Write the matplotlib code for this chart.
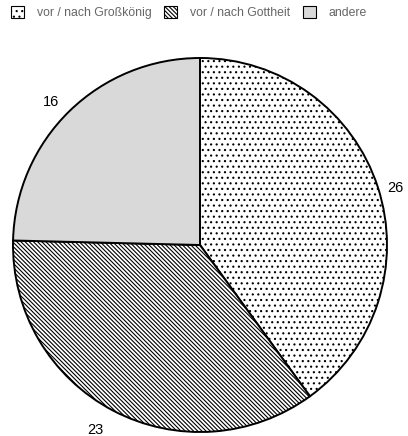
import numpy as np
import matplotlib.pyplot as plt

plt.rcParams['font.family'] = ['Liberation Sans', 'DejaVu Sans']
plt.rcParams['hatch.linewidth'] = 0.8

labels = ['vor / nach Großkönig', 'vor / nach Gottheit', 'andere']
values = [26, 23, 16]
fills = ['white', 'white', '#d9d9d9']
hatches = ['...', '\\' * 8, '']
# where each number sits: (radius, angle in degrees)
label_pos = [(1.09, 16.2), (1.135, -119.4), (1.105, 136.2)]

fig = plt.figure(figsize=(4.08, 4.36), dpi=100)
ax = fig.add_axes([13 / 408, 4 / 436, 374 / 408, 374 / 436])

wedges, texts = ax.pie(values, labels=[str(v) for v in values], startangle=90,
                       counterclock=False, colors=fills,
                       wedgeprops=dict(edgecolor='black', linewidth=1.4),
                       textprops=dict(fontsize=10.5))
for w, h in zip(wedges, hatches):
    w.set_hatch(h)
for t, (r, a) in zip(texts, label_pos):
    t.set_position((r * np.cos(np.radians(a)), r * np.sin(np.radians(a))))
    t.set_ha('center')
    t.set_va('center')
    t.set_clip_on(False)

ax.set_xlim(-1, 1)
ax.set_ylim(-1, 1)
ax.set_aspect('equal')

leg = fig.legend(wedges, labels, loc='upper left',
                 bbox_to_anchor=(5 / 408, 1.0),
                 ncol=3, frameon=False, fontsize=8.8, borderpad=0,
                 handlelength=1.07, handleheight=1.07, handletextpad=1.07,
                 columnspacing=1.0)
for t in leg.get_texts():
    t.set_color('#666666')
for p in leg.get_patches():
    p.set_linewidth(0.8)

fig.savefig('out.png', dpi=100)
